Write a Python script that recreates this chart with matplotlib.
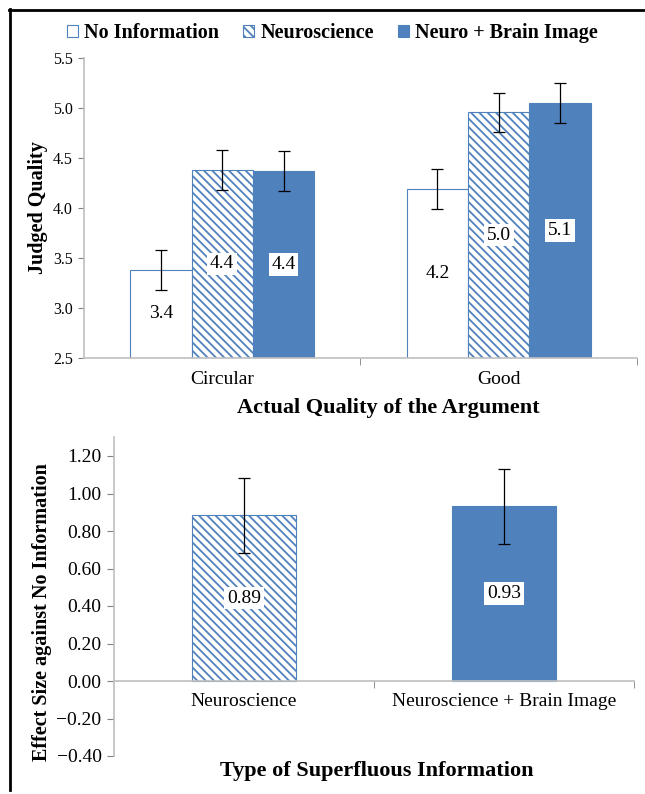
import matplotlib
matplotlib.use('Agg')
import numpy as np
import matplotlib.pyplot as plt
from matplotlib.lines import Line2D
from matplotlib.patches import Patch

plt.rcParams['font.family'] = ['Liberation Serif', 'DejaVu Serif']
plt.rcParams['hatch.linewidth'] = 1.3
plt.rcParams['hatch.color'] = '#4F81BD'

# top panel: judged quality by argument type
arguments = ['Circular', 'Good']
series_names = ['No Information', 'Neuroscience', 'Neuro + Brain Image']
no_info = [3.38, 4.19]
neuro = [4.38, 4.96]
neuro_img = [4.37, 5.05]
no_info_err = [0.2, 0.2]
neuro_err = [0.2, 0.195]
neuro_img_err = [0.2, 0.2]
no_info_lbl = ['3.4', '4.2']
neuro_lbl = ['4.4', '5.0']
neuro_img_lbl = ['4.4', '5.1']

# bottom panel: effect size against no information
info_types = ['Neuroscience', 'Neuroscience + Brain Image']
effect = [0.885, 0.932]
effect_err = [0.2, 0.2]
effect_lbl = ['0.89', '0.93']

blue = '#4F81BD'
grey = '#BFBFBF'
hatch = '\\\\\\\\'

fig = plt.figure(figsize=(6.45, 7.94), dpi=100)

# ---- top chart
ax1 = fig.add_axes([84/645, 1-358/794, 553/645, 300/794])
x = np.arange(len(arguments))
w = 0.222
styles = [dict(facecolor='white', edgecolor=blue, linewidth=0.8),
          dict(facecolor='white', edgecolor=blue, linewidth=0.8, hatch=hatch),
          dict(facecolor=blue, edgecolor=blue, linewidth=0.8)]
vals = [no_info, neuro, neuro_img]
errs = [no_info_err, neuro_err, neuro_img_err]
lbls = [no_info_lbl, neuro_lbl, neuro_img_lbl]
for k in range(3):
    pos = x + (k - 1) * w
    ax1.bar(pos, vals[k], w, bottom=0, **styles[k], zorder=2)
    ax1.errorbar(pos, vals[k], yerr=errs[k], fmt='none', ecolor='black',
                 elinewidth=0.9, capsize=4, capthick=0.9, zorder=3)
    for p, v, t in zip(pos, vals[k], lbls[k]):
        ax1.text(p, (2.5 + v) / 2, t, ha='center', va='center', fontsize=14,
                 bbox=dict(facecolor='white', edgecolor='none', pad=2), zorder=4)

ax1.set_ylim(2.5, 5.5)
ax1.set_xlim(-0.5, 1.5)
ax1.set_yticks(np.arange(2.5, 5.51, 0.5))
ax1.set_yticklabels(['%.1f' % t for t in np.arange(2.5, 5.51, 0.5)])
ax1.set_xticks(x)
ax1.set_xticklabels(arguments)
ax1.set_xticks([0.5, 1.5], minor=True)
ax1.tick_params(axis='x', which='major', length=0, pad=9, labelsize=14)
ax1.tick_params(axis='x', which='minor', length=5, color='#808080', direction='out')
ax1.tick_params(axis='y', length=4, color='#808080', pad=4, labelsize=11.5)
for s in ['top', 'right']:
    ax1.spines[s].set_visible(False)
for s in ['left', 'bottom']:
    ax1.spines[s].set_color(grey)
    ax1.spines[s].set_linewidth(1.2)
ax1.set_xlabel('Actual Quality of the Argument', fontsize=16, fontweight='bold', va='center')
ax1.xaxis.set_label_coords(0.55, -0.167)
ax1.set_ylabel('Judged Quality', fontsize=14.5, fontweight='bold', va='center')
ax1.yaxis.set_label_coords(-0.083, 0.503)

handles = [Patch(**styles[k]) for k in range(3)]
fig.legend(handles, series_names, ncol=3, loc='center', bbox_to_anchor=(0.515, 0.958),
           frameon=False, prop=dict(weight='bold', size=14.5), handlelength=0.55,
           handleheight=0.55, handletextpad=0.3, columnspacing=1.2)

# ---- bottom chart
ax2 = fig.add_axes([114/645, 1-756/794, 520/645, 318.75/794])
x2 = np.arange(len(info_types))
b_styles = [styles[1], styles[2]]
for i in range(len(info_types)):
    ax2.bar(x2[i], effect[i], 0.4, **b_styles[i], zorder=2)
    ax2.text(x2[i], effect[i] / 2, effect_lbl[i], ha='center', va='center', fontsize=14,
             bbox=dict(facecolor='white', edgecolor='none', pad=2), zorder=4)
ax2.errorbar(x2, effect, yerr=effect_err, fmt='none', ecolor='black',
             elinewidth=0.9, capsize=4, capthick=0.9, zorder=3)
ax2.set_ylim(-0.4, 1.3)
ax2.set_xlim(-0.5, 1.5)
ticks2 = np.round(np.arange(-0.4, 1.21, 0.2), 2)
ax2.set_yticks(ticks2)
ax2.set_yticklabels([('%.2f' % abs(t)) if t >= 0 else '\u2212%.2f' % abs(t) for t in ticks2])
ax2.set_xticks(x2)
ax2.set_xticklabels(info_types)
ax2.set_xticks([0.5, 1.5], minor=True)
ax2.spines['bottom'].set_position(('data', 0))
ax2.tick_params(axis='x', which='major', length=0, pad=9, labelsize=14)
ax2.tick_params(axis='x', which='minor', length=5, color='#808080', direction='out')
ax2.tick_params(axis='y', length=5, color='#808080', pad=4, labelsize=14)
for s in ['top', 'right']:
    ax2.spines[s].set_visible(False)
for s in ['left', 'bottom']:
    ax2.spines[s].set_color(grey)
    ax2.spines[s].set_linewidth(1.2)
ax2.set_xlabel('Type of Superfluous Information', fontsize=16, fontweight='bold', va='center')
ax2.xaxis.set_label_coords(0.506, -0.047)
ax2.set_ylabel('Effect Size against No Information', fontsize=14.5, fontweight='bold', va='center')
ax2.yaxis.set_label_coords(-0.138, 0.452)

# outer frame (top and left edges)
fig.add_artist(Line2D([9/645, 1], [1-10/794, 1-10/794], transform=fig.transFigure,
                      color='black', lw=2))
fig.add_artist(Line2D([10/645, 10/645], [1-9/794, 1-790/794], transform=fig.transFigure,
                      color='black', lw=2))

fig.savefig('out.png', dpi=100)
